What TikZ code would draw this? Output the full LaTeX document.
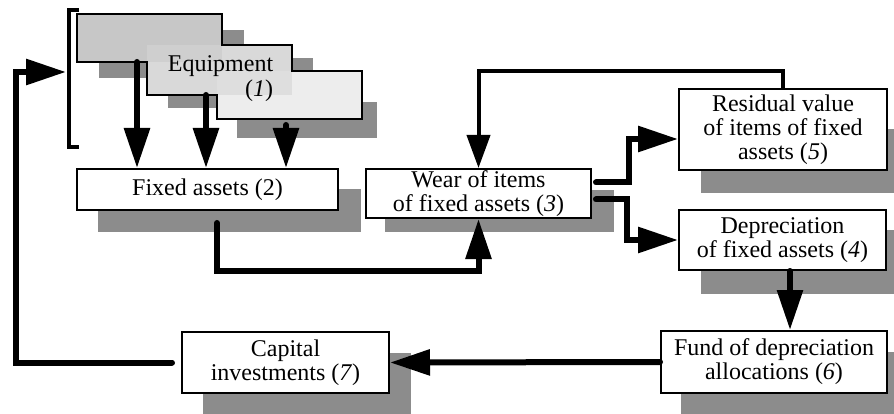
\documentclass[tikz,border=0pt]{standalone}
\usepackage{fontspec}
\setmainfont{Liberation Serif}
\usetikzlibrary{arrows.meta,calc,backgrounds}

\definecolor{eqdark}{gray}{0.78}
\definecolor{eqmixab}{gray}{0.81}
\definecolor{eqmid}{gray}{0.85}
\definecolor{eqmixbc}{gray}{0.87}
\definecolor{eqlight}{gray}{0.93}
\definecolor{shadowgray}{gray}{0.55}

\begin{document}
\begin{tikzpicture}[x=1pt,y=-1pt,
    box/.style={draw, fill=white, line width=2pt, inner sep=0pt, align=center,
      font=\fontsize{24}{24}\selectfont},
    eqbox/.style={inner sep=0pt, minimum width=145, outer sep=0pt},
    shadowfill/.style={fill=shadowgray},
    flow/.style={line width=6pt, line cap=round, -{Triangle[length=40pt,width=25pt]}},
    feedback/.style={line width=4pt, line cap=round, -{Triangle[length=33pt,width=23pt]}}]
  \useasboundingbox (0,0) rectangle (894,414);

  % equipment, three overlapping sheets
  \node[eqbox, fill=eqdark, minimum height=48] (equipA) at (149.5,38) {};
  \node[eqbox, fill=eqmid, minimum height=50] (equipB) at (219.5,70) {};
  \node[eqbox, fill=eqlight, minimum height=48] (equipC) at (289.5,95) {};
  \fill[eqmixab] (equipB.north west) rectangle (equipA.south east);
  \fill[eqmixbc] (equipC.north west) rectangle (equipB.south east);
  \draw[line width=2.5pt] (equipA.north west) -- (equipA.north east) -- (equipA.north east |- equipB.north)
    -- (equipB.north east) -- (equipB.north east |- equipC.north) -- (equipC.north east)
    -- (equipC.south east) -- (equipC.south west) -- (equipC.south west |- equipB.south)
    -- (equipB.south west) -- (equipB.south west |- equipA.south) -- (equipA.south west) -- cycle;
  \node[font=\fontsize{24}{25}\selectfont, align=right, inner sep=0pt] (equiptext) at (220.5,79) {Equipment\\(\textit{1})};
  \draw[line width=3.5pt] (79,10) -- (69,10) -- (69,147) -- (79,147);
  \coordinate (brk) at (66,72);

  % boxes
  \node[box, minimum width=261, minimum height=41] (fixed) at (207.5,189.5) {Fixed assets (2)};
  \node[box, minimum width=225, minimum height=49] (wear) at (478.5,193.5) {Wear of items\\of fixed assets (\textit{3})};
  \node[box, minimum width=208, minimum height=81] (resid) at (783,129.5) {Residual value\\of items of fixed\\assets (\textit{5})};
  \node[box, minimum width=207, minimum height=60] (deprec) at (782.5,240) {Depreciation\\of fixed assets (\textit{4})};
  \node[box, minimum width=226, minimum height=62] (fund) at (774,362) {Fund of depreciation\\allocations (\textit{6})};
  \node[box, minimum width=207, minimum height=61] (capital) at (285.5,362.5) {Capital\\investments (\textit{7})};

  % shadows
  \begin{scope}[on background layer]
    \fill[shadowfill] (99,30) rectangle (244,78);
    \fill[shadowfill] (168,58) rectangle (313,108);
    \fill[shadowfill] (237,102) rectangle (377,138);
    \fill[shadowfill] ($(fixed.north west)+(22,21)$) rectangle ($(fixed.south east)+(22,21)$);
    \fill[shadowfill] ($(wear.north west)+(20,22)$) rectangle ($(wear.south east)+(22,13)$);
    \fill[shadowfill] ($(resid.north west)+(23,41)$) rectangle ($(resid.south east)+(7,22)$);
    \fill[shadowfill] ($(deprec.north west)+(23,21)$) rectangle ($(deprec.south east)+(8,23)$);
    \fill[shadowfill] ($(fund.north west)+(21,22)$) rectangle ($(fund.south east)+(7,21)$);
    \fill[shadowfill] ($(capital.north west)+(22,22)$) rectangle ($(capital.south east)+(21,21)$);
  \end{scope}

  % connectors
  \draw[flow] ($(equipA.south)+(-12.5,0)$) coordinate (a1) -- (a1 |- fixed.north);
  \draw[flow] ($(equipB.south)+(-13.5,0)$) coordinate (a2) -- (a2 |- fixed.north);
  \draw[flow] ($(equipC.south)+(-3.5,6)$) coordinate (a3) -- (a3 |- fixed.north);
  \draw[flow] ($(fixed.south)+(9.5,12)$) -- ++(0,48) -| (wear.south);
  \draw[flow] ($(wear.east)+(4,-11)$) -- ++(33,0) |- ($(resid.west)+(0,9.5)$);
  \draw[flow] ($(wear.east)+(4,6)$) -- ++(31,0) |- (deprec.west);
  \draw[feedback] (resid.north) -- ++(0,-17) -| (wear.north);
  \draw[flow] ($(deprec.south)+(7.5,0)$) coordinate (d6) -- (d6 |- fund.north);
  \draw[flow] (fund.west) -- (capital.east);
  \draw[flow] ($(capital.west)+(-9,0)$) -- ++(-156,0) |- (brk);
\end{tikzpicture}
\end{document}
